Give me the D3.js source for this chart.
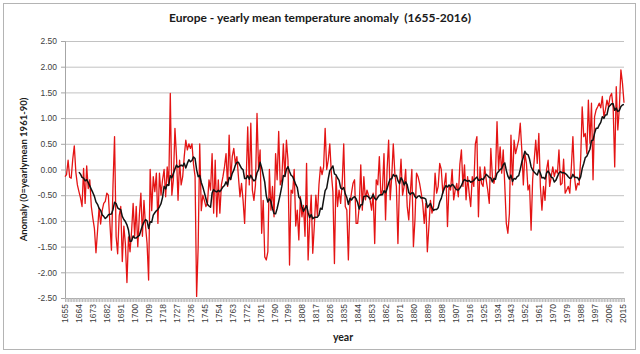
<!DOCTYPE html>
<html>
<head>
<meta charset="utf-8">
<script src="https://cdn.jsdelivr.net/npm/d3@7"></script>
<style>
  body { margin: 0; background: #fff; }
  svg { display: block; font-family: Lato, "Open Sans", sans-serif; }
</style>
</head>
<body>
<div id="chart"></div>
<script>
// Europe yearly mean temperature anomaly (0 = mean 1961-90).
// One value per year, starting in 1655.

let firstYear = 1655;

let anomaly1600s = [
  -0.14, -0.10, 0.18, -0.15, -0.17, 0.20, 0.46, -0.05, -0.30, -0.43,   // 1655-1664
  -0.55, -0.72, 0.02, -0.66, 0.07, -0.37, -0.20, -0.72, -0.95, -1.15,  // 1665-1674
  -1.62, -1.20, -0.75, -1.06, -0.80, -0.66, -0.62, -0.46, -0.50, -1.05, // 1675-1684
  -1.57, -0.30, 0.64, -1.30, -1.64, -0.90, -0.72, -1.79, -1.10, -1.45, // 1685-1694
  -2.20, -1.31, -1.60, -1.20, -0.66                                    // 1695-1699
];

let anomaly1700s = [
  -1.30, -0.72, -1.50, -0.90, -0.46, -1.30, -0.60, -1.10, -1.44, -2.15, // 1700
  0.00, -0.80, -0.14, -0.43, -0.07, -1.05, -0.07, -0.50, -0.20, 0.00,   // 1710
  -0.53, 0.05, -0.30, 1.48, -0.50, -0.20, 0.80, 0.25, -0.60, 0.18,      // 1720
  -0.30, -0.14, 0.25, 0.57, 0.38, 0.50, 0.41, 0.50, 0.10, -0.14,        // 1730
  -2.47, -1.50, 0.50, -0.80, -0.50, -0.60, -0.72, -0.66, -0.20, -0.40,  // 1740
  0.31, -0.85, 0.18, -0.92, -0.20, -0.85, -0.30, -0.14, 0.05, 0.31,     // 1750
  -0.33, 0.67, -0.20, 0.25, 0.41, 0.12, 0.25, -0.14, -0.53, -0.27,      // 1760
  -0.60, -1.05, -0.20, 0.83, -0.30, 0.90, -0.40, -0.60, -0.30, 1.09,    // 1770
  0.00, 0.38, -1.24, -0.60, -1.70, -1.76, -1.60, 0.00, -0.79, -0.33,    // 1780
  -0.92, 0.31, -0.20, 0.74, -0.30, -0.20, 0.50, -0.14, 0.57, 0.18       // 1790
];

let anomaly1800s = [
  -1.86, -0.40, -0.46, 0.00, -1.10, -0.79, -1.37, -0.53, -0.92, -0.70,  // 1800
  -1.30, 0.12, -1.76, -1.00, -0.50, -1.63, -1.10, -0.50, -0.90, -0.30,  // 1810
  0.05, -0.10, 0.05, 0.80, 0.00, 0.18, 0.50, -0.07, -0.43, -1.83,       // 1820
  -0.14, -0.72, -0.40, -0.66, -0.27, 0.50, -0.72, -0.79, -1.76, -0.66,  // 1830
  -0.46, -0.27, -0.20, -1.05, -1.05, -0.72, 0.09, -0.79, -0.14, -0.59,  // 1840
  -0.40, -0.50, -0.59, -0.79, -0.46, -1.44, -0.20, -0.30, 0.25, -0.50,  // 1850
  -0.40, 0.31, -0.98, 0.00, 0.57, -0.59, -0.14, 0.50, -0.07, -0.33,     // 1860
  -1.44, -0.30, 0.20, -0.50, -0.33, 0.00, -0.72, -0.98, -0.46, 0.00,    // 1870
  -1.50, -0.98, -0.07, -0.14, -0.27, -0.45, -0.66, -1.05, -0.66, -1.60, // 1880
  -1.11, -0.60, -0.85, -0.72, -0.07, -0.46, -0.33, 0.12, 0.00, -0.46    // 1890
];

let anomaly1900s = [
  -0.30, -0.07, -1.11, -0.33, -0.40, 0.00, -0.59, -0.40, -0.27, -0.53,  // 1900
  0.10, 0.38, -0.33, 0.09, -0.59, -0.14, -0.46, -0.72, -0.14, -0.33,    // 1910
  0.50, 0.64, -0.92, 0.05, -0.27, -0.33, 0.05, -0.20, -0.40, -0.66,     // 1920
  0.41, -0.14, -0.27, -0.10, 0.93, 0.00, 0.44, -0.07, 0.38, -0.30,      // 1930
  -1.05, -1.24, -0.85, 0.67, -0.30, 0.57, 0.31, 0.44, 0.57, 0.90,       // 1940
  0.38, -0.30, 0.31, 0.12, -0.40, -0.30, -1.18, -0.20, 0.18, 0.57,      // 1950
  0.12, 0.70, -0.33, -0.79, -0.33, -0.60, 0.00, 0.18, -0.33, -0.14,     // 1960
  0.05, -0.14, -0.01, -0.07, 0.38, -0.30, -0.27, 0.20, -0.46, -0.40,    // 1970
  -0.33, -0.46, 0.05, 0.64, -0.14, -0.40, -0.27, -0.30, 0.18, 1.22,     // 1980
  0.64, 0.70, 0.31, 1.35, 0.51, 1.29, -0.20, 1.03, 1.16, 1.22           // 1990
];

let anomaly2000s = [
  1.29, 1.20, 1.42, 1.03, 1.16, 1.35, 1.22, 1.42, 1.48, 1.20,           // 2000
  0.05, 1.61, 0.77, 1.20, 1.94, 1.68, 1.30                              // 2010
];

// the black line is a 10 year moving average, as the spreadsheet trendline
let maPeriod = 10;

let yTicks = [-2.5, -2, -1.5, -1, -0.5, 0, 0.5, 1, 1.5, 2, 2.5];
let xTickYears = [1655, 1664, 1673, 1682, 1691, 1700, 1709, 1718, 1727, 1736,
                  1745, 1754, 1763, 1772, 1781, 1790, 1799, 1808, 1817, 1826,
                  1835, 1844, 1853, 1862, 1871, 1880, 1889, 1898, 1907, 1916,
                  1925, 1934, 1943, 1952, 1961, 1970, 1979, 1988, 1997, 2006, 2015];

let titleText = "Europe - yearly mean temperature anomaly  (1655-2016)";
let yTitle = "Anomaly (0=yearlymean 1961-90)";
let xTitle = "year";

////////////////////////////////////////////////////////////////////////
// build the series

let values = anomaly1600s.concat(anomaly1700s, anomaly1800s, anomaly1900s, anomaly2000s);
let data = values.map(function(v, i) { return { year: firstYear + i, value: v }; });

let movingAvg = [];
for (let i = maPeriod - 1; i < data.length; i++) {
  let win = data.slice(i - maPeriod + 1, i + 1);
  movingAvg.push({ year: data[i].year, value: d3.mean(win, function(d) { return d.value; }) });
}

////////////////////////////////////////////////////////////////////////
// layout

let width = 640;
let height = 354;
let plotLeft = 65, plotRight = 624, plotTop = 41, plotBottom = 298;

let svg = d3.select("#chart").append("svg")
  .attr("width", width).attr("height", height);

svg.append("rect")
  .attr("x", 3.5).attr("y", 3.5)
  .attr("width", 632).attr("height", 346)
  .attr("fill", "#fff")
  .attr("stroke", "#b4b4b4");

let xScale = d3.scaleLinear()
  .domain([firstYear, data[data.length - 1].year])
  .range([plotLeft, plotRight]);

let yScale = d3.scaleLinear()
  .domain([-2.5, 2.5])
  .range([plotBottom, plotTop]);

let fmt = d3.formatLocale({ decimal: ".", thousands: ",", grouping: [3], currency: ["", ""], minus: "-" }).format(".2f");

// gridlines
let grid = svg.append("g")
  .attr("transform", "translate(" + plotLeft + ",0)")
  .call(d3.axisLeft(yScale).tickValues(yTicks).tickSize(-(plotRight - plotLeft)).tickFormat(""));
grid.select(".domain").remove();
grid.selectAll("line").attr("stroke", "#c2c2c2");

// y axis
let yAxis = svg.append("g")
  .attr("transform", "translate(" + plotLeft + ",0)")
  .call(d3.axisLeft(yScale).tickValues(yTicks).tickSize(4).tickPadding(4).tickFormat(fmt));
yAxis.select(".domain").attr("stroke", "#a6a6a6");
yAxis.selectAll("line").attr("stroke", "#a6a6a6");
yAxis.selectAll("text").attr("fill", "#404040").style("font-size", "8.5px");

// x axis: one tick per year makes the grey band
let allYears = data.map(function(d) { return d.year; });
let xTicksAxis = svg.append("g")
  .attr("transform", "translate(0," + plotBottom + ")")
  .call(d3.axisBottom(xScale).tickValues(allYears).tickSize(4).tickFormat(""));
xTicksAxis.select(".domain").attr("stroke", "#a6a6a6");
xTicksAxis.selectAll("line").attr("stroke", "#b8b8b8");

// x labels every 9 years, rotated
let xLabels = svg.append("g")
  .attr("transform", "translate(0," + plotBottom + ")")
  .call(d3.axisBottom(xScale).tickValues(xTickYears).tickSize(0).tickFormat(d3.format("d")));
xLabels.select(".domain").remove();
xLabels.selectAll("text")
  .attr("transform", "rotate(-90)")
  .attr("x", -6).attr("y", 0).attr("dy", "0.35em")
  .style("text-anchor", "end")
  .style("font-size", "8.5px")
  .attr("fill", "#404040");

// lines
let line = d3.line()
  .x(function(d) { return xScale(d.year); })
  .y(function(d) { return yScale(d.value); });

svg.append("path")
  .datum(data)
  .attr("d", line)
  .attr("fill", "none")
  .attr("stroke", "#e41414")
  .attr("stroke-width", 1.3)
  .attr("stroke-linejoin", "round");

svg.append("path")
  .datum(movingAvg)
  .attr("d", line)
  .attr("fill", "none")
  .attr("stroke", "#111")
  .attr("stroke-width", 1.5)
  .attr("stroke-linejoin", "round");

// titles
svg.append("text")
  .attr("x", 320).attr("y", 22)
  .attr("text-anchor", "middle")
  .style("font-size", "12px").style("font-weight", "bold")
  .style("white-space", "pre")
  .attr("fill", "#1a1a1a")
  .text(titleText);

svg.append("text")
  .attr("transform", "translate(27," + ((plotTop + plotBottom) / 2) + ") rotate(-90)")
  .attr("text-anchor", "middle")
  .style("font-size", "9.5px").style("font-weight", "bold")
  .attr("fill", "#1a1a1a")
  .text(yTitle);

svg.append("text")
  .attr("x", 343).attr("y", 341)
  .attr("text-anchor", "middle")
  .style("font-size", "10.5px").style("font-weight", "bold")
  .attr("fill", "#1a1a1a")
  .text(xTitle);
</script>
</body>
</html>
